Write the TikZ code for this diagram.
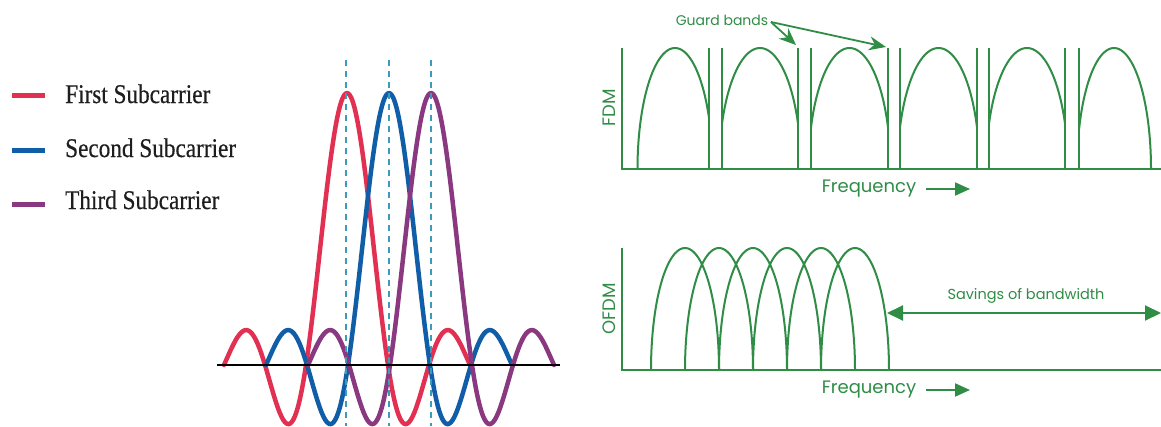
\documentclass[tikz,border=0pt]{standalone}
\usepackage{fontspec}
\setmainfont{Liberation Serif}
\newfontfamily\legfont[FakeStretch=0.86,FakeBold=0.4]{Liberation Serif}
\newfontfamily\gfont{Poppins}
\usetikzlibrary{arrows.meta}
\definecolor{gfg}{HTML}{2F8D46}
\definecolor{subred}{RGB}{226,48,82}
\definecolor{subblue}{RGB}{17,94,168}
\definecolor{subpurple}{RGB}{138,56,128}
\definecolor{dashcol}{RGB}{60,155,185}
\definecolor{legtext}{RGB}{30,30,30}
\begin{document}
\begin{tikzpicture}[x=1pt,y=-1pt,
  curve/.style={line width=4.5pt,line cap=round,line join=round},
  legline/.style={line width=5pt},
  legtxt/.style={anchor=base west,inner sep=0pt,text=legtext,font=\legfont\fontsize{27}{29}\selectfont},
  guide/.style={dashcol,line width=1.4pt,dash pattern=on 6pt off 5pt},
  gline/.style={gfg,line width=2pt,line join=round},
  gaxis/.style={gfg,line width=2.4pt},
  glabel/.style={text=gfg,inner sep=0pt},
  garrow/.style={gfg,line width=2pt,-{Triangle[length=15pt,width=13pt]}},
  gstealth/.style={gfg,line width=1.8pt,-{Stealth[length=17pt,width=14pt]}},
  gdouble/.style={gfg,line width=2pt,{Triangle[length=16pt,width=15pt]}-{Triangle[length=16pt,width=15pt]}}
]
\useasboundingbox[fill=white] (0,0) rectangle (1161,426);

% ---------- legend ----------
\draw[legline,subred] (12,95) -- (45,95);
\draw[legline,subblue] (12,150) -- (45,150);
\draw[legline,subpurple] (12,204) -- (45,204);
\node[legtxt] (l1) at (65,103) {First Subcarrier};
\node[legtxt] (l2) at (65,157) {Second Subcarrier};
\node[legtxt] (l3) at (65,209) {Third Subcarrier};

% ---------- subcarriers ----------
\foreach \c/\col in {347/subred,389/subblue,431/subpurple}{
  \draw[curve,\col] plot[domain=-3:3,samples=150,smooth]
    ({\c+41*\x},{365-272*sin(180*\x)/(pi*\x)});
}
\draw[black,line width=2.6pt] (217,365) -- (560,365);
\foreach \c in {346,389,431}{
  \draw[guide] (\c,60) -- (\c,426);
}

% ---------- FDM ----------
\draw[gaxis] (622,48) -- (622,169) -- (1161,169);
\foreach \gx in {709,722,798,811,888,900,977,989,1065,1079}{
  \draw[gline] (\gx,48) -- (\gx,169);
}
% first band
\draw[gline] plot[domain=180:24.9,samples=60,smooth] ({675+37.5*cos(\x)},{169-121*sin(\x)});
% middle bands
\foreach \L/\R in {722/798,811/888,900/977,989/1065}{
  \pgfmathsetmacro{\cc}{(\L+\R)/2}
  \pgfmathsetmacro{\ta}{acos(((\R-\L)/2)/41)}
  \pgfmathsetmacro{\tb}{180-\ta}
  \draw[gline] plot[domain=\tb:\ta,samples=60,smooth] ({\cc+41*cos(\x)},{169-121*sin(\x)});
}
% last band
\draw[gline] plot[domain=161:0,samples=60,smooth] ({1114+37*cos(\x)},{169-121*sin(\x)});

\node[glabel,font=\gfont\fontsize{14}{16}\selectfont] (gb) at (722,20) {Guard bands};
\coordinate (gbs) at (771,22);
\coordinate (gt1) at (796,45);
\coordinate (gt2) at (886,47);
\draw[gstealth] (gbs) -- (gt1);
\draw[gstealth] (gbs) -- (gt2);

\node[glabel,rotate=90,font=\gfont\fontsize{18}{20}\selectfont] (fdm) at (609,108) {FDM};
\node[glabel,font=\gfont\fontsize{18}{20}\selectfont] (f1) at (869,189) {Frequency};
\coordinate (fa1) at (970,189);
\draw[garrow] ([xshift=10pt]f1.east) -- (fa1);

% ---------- OFDM ----------
\draw[gaxis] (622,248) -- (622,370) -- (1161,370);
\foreach \k in {0,...,5}{
  \draw[gline] plot[domain=180:0,samples=60,smooth] ({685+34*\k+34*cos(\x)},{370-122*sin(\x)});
}
\node[glabel,rotate=90,font=\gfont\fontsize{18}{20}\selectfont] (ofdm) at (609,309) {OFDM};
\node[glabel,font=\gfont\fontsize{18}{20}\selectfont] (f2) at (869,390) {Frequency};
\coordinate (fa2) at (970,390);
\draw[garrow] ([xshift=10pt]f2.east) -- (fa2);

\node[glabel,font=\gfont\fontsize{14.5}{16}\selectfont] (sav) at (1026,296) {Savings of bandwidth};
\coordinate (sv1) at (887,313);
\coordinate (sv2) at (1161,313);
\draw[gdouble] (sv1) -- (sv2);
\end{tikzpicture}
\end{document}
